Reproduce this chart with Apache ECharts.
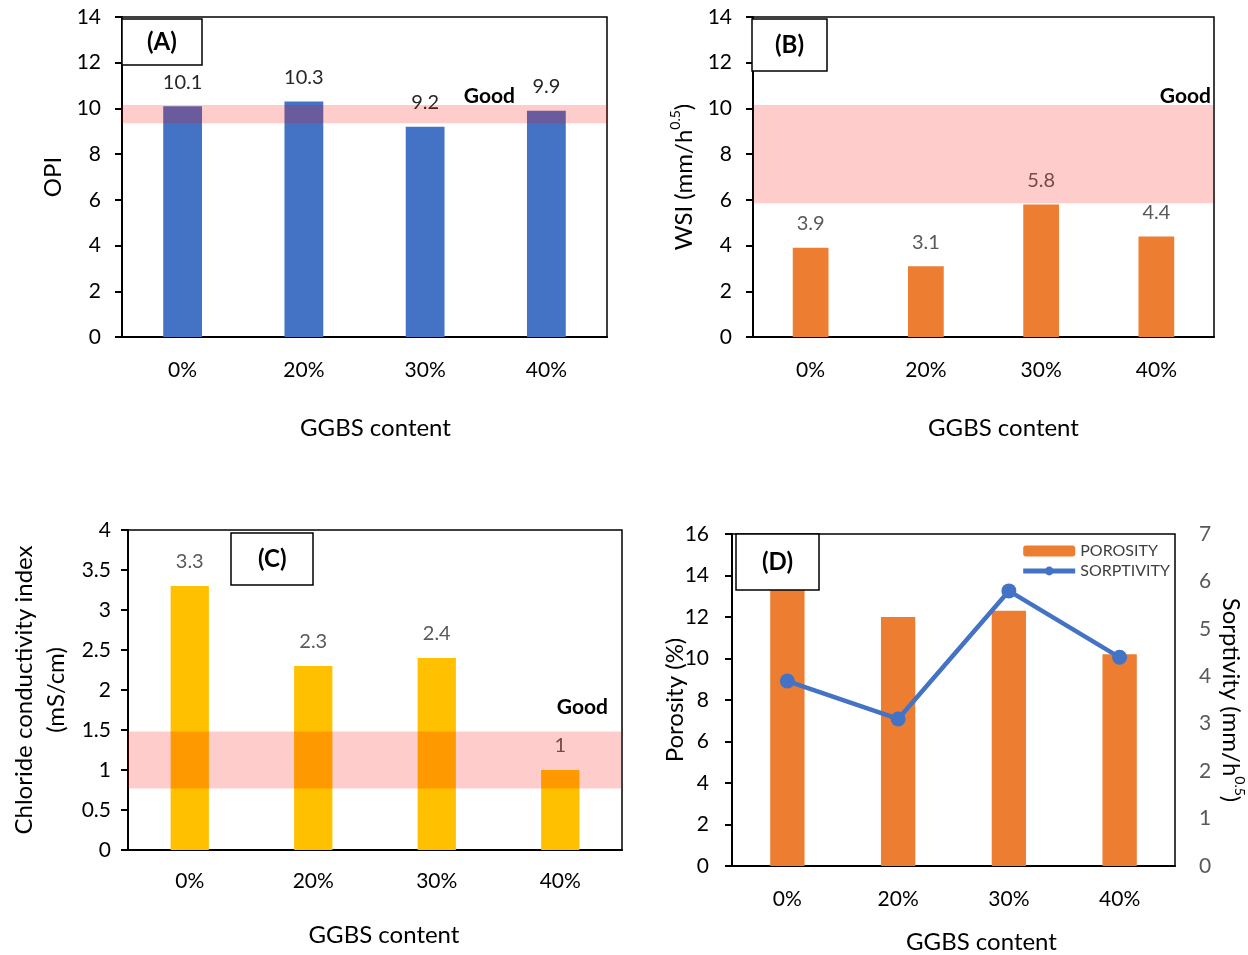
<!DOCTYPE html>
<html>
<head>
<meta charset="utf-8">
<title>GGBS content – durability indices</title>
<script src="https://cdn.jsdelivr.net/npm/echarts@6/dist/echarts.min.js"></script>
<style>
  html, body { margin: 0; padding: 0; background: #fff; }
  #chart { width: 1248px; height: 955px; }
</style>
</head>
<body>
<div id="chart"></div>
<script>
// GGBS replacement levels
const categories = ['0%', '20%', '30%', '40%'];

// (A) Oxygen permeability index
const opiValues = [10.1, 10.3, 9.2, 9.9];
const opiGoodBand = [9.35, 10.15];

// (B) Water sorptivity index, mm/h^0.5
const wsiValues = [3.9, 3.1, 5.8, 4.4];
const wsiGoodBand = [5.85, 10.15];

// (C) Chloride conductivity index, mS/cm
const cciValues = [3.3, 2.3, 2.4, 1.0];
const cciGoodBand = [0.77, 1.48];

// (D) Porosity (%) and sorptivity (mm/h^0.5)
const porosityValues = [13.5, 12.0, 12.3, 10.2];
const sorptivityValues = [3.9, 3.1, 5.8, 4.4];

const FONT = 'Lato, "Open Sans", sans-serif';
const BLUE = '#4472C4';
const ORANGE = '#ED7D31';
const GOLD = '#FFC000';
const BAND = 'rgba(255,0,0,0.2)';

function catAxis(gridIndex, nameGap, nameShift, labelMargin) {
  return {
    type: 'category', gridIndex, data: categories,
    name: 'GGBS content', nameLocation: 'middle', nameGap, nameMoveOverlap: false,
    nameTextStyle: { fontSize: 24, color: '#000', fontFamily: FONT, padding: [0, 0, 0, nameShift] },
    axisLine: { lineStyle: { color: '#000', width: 2 } },
    axisTick: { alignWithLabel: true, length: 7, lineStyle: { color: '#000', width: 2 } },
    axisLabel: { fontSize: 21, color: '#000', fontFamily: FONT, margin: labelMargin }
  };
}

function valAxis(gridIndex, max, interval, name, nameGap, labelMargin, extra) {
  return Object.assign({
    type: 'value', gridIndex, min: 0, max, interval,
    name, nameLocation: 'middle', nameGap, nameMoveOverlap: false,
    nameTextStyle: {
      fontSize: 24, color: '#000', fontFamily: FONT, lineHeight: 32,
      rich: { sup: { fontSize: 14, fontFamily: FONT, verticalAlign: 'top', color: '#000' } }
    },
    axisLine: { show: true, lineStyle: { color: '#000', width: 2 } },
    axisTick: { show: true, length: 7, lineStyle: { color: '#000', width: 2 } },
    splitLine: { show: false },
    axisLabel: { fontSize: 21, color: '#000', fontFamily: FONT, margin: labelMargin }
  }, extra || {});
}

function valueLabel(color) {
  return { show: true, position: 'top', distance: 14, fontSize: 20, color, fontFamily: FONT };
}

// translucent "Good" range drawn over the bars
function goodBand(band, offset) {
  return {
    silent: true, z: 5,
    itemStyle: { color: BAND, borderWidth: 0 },
    label: {
      show: true, position: ['100%', 0], align: 'right', verticalAlign: 'bottom',
      offset, fontSize: 21, fontWeight: 'bold', color: '#000', fontFamily: FONT
    },
    data: [[{ yAxis: band[0], name: 'Good' }, { yAxis: band[1] }]]
  };
}

function panelTag(text, left, top, padding) {
  return {
    text, left, top, padding,
    borderColor: '#000', borderWidth: 1.5, backgroundColor: '#fff',
    textStyle: { fontSize: 24, fontWeight: 'bold', color: '#000', fontFamily: FONT }
  };
}

const gridStyle = { show: true, borderColor: '#000', borderWidth: 1.5, backgroundColor: 'transparent', containLabel: false };

const option = {
  animation: false,
  backgroundColor: '#fff',
  textStyle: { fontFamily: FONT },
  title: [
    panelTag('(A)', 122, 19, [11, 25]),
    panelTag('(B)', 752, 19, [14, 23]),
    panelTag('(C)', 231, 533, [14, 27]),
    panelTag('(D)', 736, 534, [16, 26])
  ],
  legend: {
    orient: 'vertical', right: 73, top: 538,
    itemWidth: 52, itemHeight: 11, itemGap: 4,
    textStyle: { fontSize: 16, color: '#404040', fontFamily: FONT },
    data: ['POROSITY', { name: 'SORPTIVITY', lineStyle: { width: 5 } }]
  },
  grid: [
    Object.assign({ left: 122, top: 17, width: 485, height: 320 }, gridStyle),
    Object.assign({ left: 753, top: 17, width: 461, height: 320 }, gridStyle),
    Object.assign({ left: 128, top: 530, width: 494, height: 320 }, gridStyle),
    Object.assign({ left: 732, top: 534, width: 445, height: 336 }, gridStyle)
  ],
  xAxis: [
    catAxis(0, 79, 22, 23),
    catAxis(1, 79, 40, 23),
    catAxis(2, 73, 18, 21),
    catAxis(3, 64, 56, 23)
  ],
  yAxis: [
    valAxis(0, 14, 2, 'OPI', 53, 21),
    valAxis(1, 14, 2, 'WSI (mm/h{sup|0.5})', 53, 21),
    valAxis(2, 4, 0.5, 'Chloride conductivity index\n(mS/cm)', 56, 17),
    valAxis(3, 16, 2, 'Porosity (%)', 41, 23),
    valAxis(3, 7, 1, 'Sorptivity (mm/h{sup|0.5})', 40, 24, {
      position: 'right', nameRotate: -90,
      axisLine: { show: false }, axisTick: { show: false },
      axisLabel: { fontSize: 21, color: '#595959', fontFamily: FONT, margin: 24 }
    })
  ],
  series: [
    {
      type: 'bar', xAxisIndex: 0, yAxisIndex: 0, data: opiValues, barWidth: '32%',
      itemStyle: { color: BLUE }, label: valueLabel('#262626'),
      markArea: goodBand(opiGoodBand, [-92, 2])
    },
    {
      type: 'bar', xAxisIndex: 1, yAxisIndex: 1, data: wsiValues, barWidth: '31%',
      itemStyle: { color: ORANGE }, label: valueLabel('#595959'),
      markArea: goodBand(wsiGoodBand, [-3, 2])
    },
    {
      type: 'bar', xAxisIndex: 2, yAxisIndex: 2, data: cciValues, barWidth: '31%',
      itemStyle: { color: GOLD }, label: valueLabel('#595959'),
      markArea: goodBand(cciGoodBand, [-14, -14])
    },
    {
      name: 'POROSITY', type: 'bar', xAxisIndex: 3, yAxisIndex: 3, data: porosityValues, barWidth: '31%',
      itemStyle: { color: ORANGE }
    },
    {
      name: 'SORPTIVITY', type: 'line', xAxisIndex: 3, yAxisIndex: 4, data: sorptivityValues,
      symbol: 'circle', symbolSize: 15, z: 4,
      lineStyle: { color: BLUE, width: 4.5 }, itemStyle: { color: BLUE }
    }
  ]
};

const chart = echarts.init(document.getElementById('chart'), null, { renderer: 'canvas' });
chart.setOption(option);
</script>
</body>
</html>
